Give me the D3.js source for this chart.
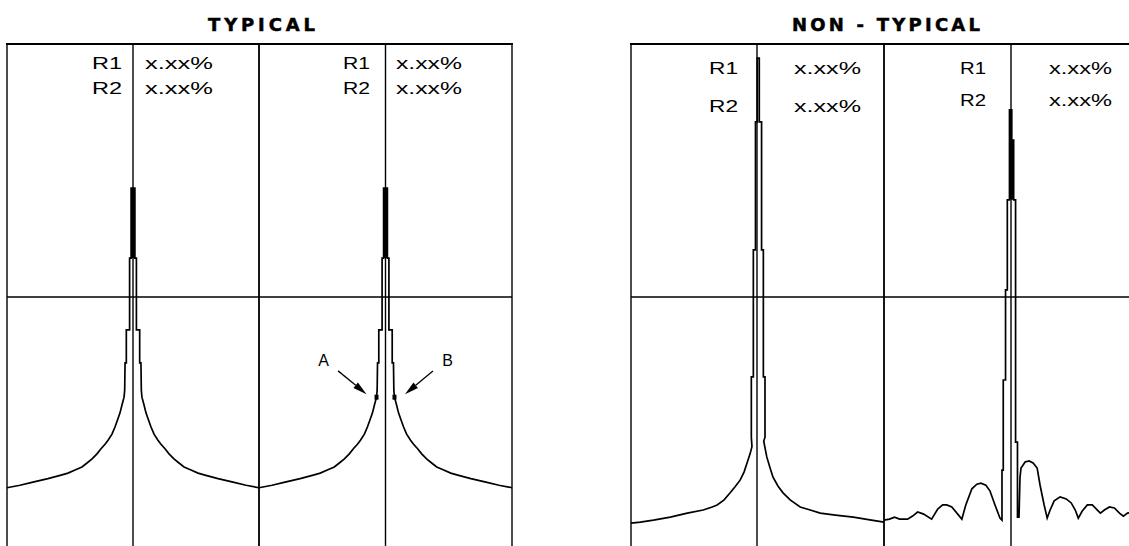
<!DOCTYPE html>
<html>
<head>
<meta charset="utf-8">
<script src="https://cdn.jsdelivr.net/npm/d3@7/dist/d3.min.js"></script>
<style>
  html, body { margin: 0; padding: 0; background: #fff; }
  svg { display: block; }
  text { font-family: "Liberation Sans", Arial, sans-serif; fill: #000; }
  text.title { font-family: "DejaVu Sans", sans-serif; font-weight: bold;
               stroke: #000; stroke-width: 0.5; }
</style>
</head>
<body>
<svg id="chart" width="1129" height="546"></svg>
<script>
// ---- data -------------------------------------------------------------
// Offsets are in % of the half-span of a chart (-100 .. 100, 0 = carrier),
// levels are in dB below the top of the screen (0 .. -100).

const panelTitles = ["TYPICAL", "NON - TYPICAL"];
const readoutLabels = ["R1", "R2"];
const readoutValues = ["x.xx%", "x.xx%"];

// Typical response: one side of the symmetric skirt, [offset, level],
// from the peak outward.
const typicalHalf = [
  [1.5, -28.5], [1.5, -42.3], [2.7, -42.3], [2.7, -56.5],
  [5.3, -56.5], [5.3, -63.0], [6.3, -63.0], [6.6, -68.4],
  [7.1, -69.8], [8.7, -71.3], [10.3, -72.9], [12.3, -74.3],
  [14.3, -75.7], [16.7, -77.1], [19.8, -78.3], [22.2, -79.1],
  [25.4, -80.0], [28.6, -81.0], [32.5, -82.0], [36.5, -82.8],
  [40.5, -83.6], [46.0, -84.2], [51.6, -84.8], [57.1, -85.2],
  [67.5, -85.9], [79.4, -86.6], [89.7, -87.2], [100, -87.7]
];

// Non-typical response 1: narrow peak with a wide skirt.
const nonTypicalOne = [
  [-100, -94.7], [-92.5, -94.5], [-82.2, -94.1], [-68.8, -93.5],
  [-55.3, -92.7], [-42.7, -92.1], [-35.6, -91.5], [-31.6, -91.1],
  [-26.1, -90.1], [-21.3, -88.7], [-17.4, -87.5], [-13.4, -86.2],
  [-10.3, -84.6], [-7.9, -82.8], [-5.5, -81.0], [-4.0, -79.6],
  [-4.5, -77.7], [-4.5, -65.8], [-2.9, -65.8], [-2.9, -40.7],
  [-1.2, -40.7], [-1.2, -15.4], [0.2, -15.4], [0.2, -2.8],
  [1.8, -2.8], [1.8, -15.4], [3.6, -15.4], [3.6, -40.7],
  [5.0, -40.7], [5.0, -65.8], [6.3, -65.8], [6.3, -77.7],
  [5.3, -78.5], [7.7, -81.6], [10.3, -83.8], [12.6, -85.6],
  [16.6, -87.4], [20.5, -88.7], [26.1, -90.1], [34.0, -91.5],
  [41.9, -92.1], [49.8, -92.7], [61.7, -93.1], [75.9, -93.5],
  [87.7, -94.0], [100, -94.5]
];

// Non-typical response 2: peak with side lobes.
const nonTypicalTwo = [
  [-100, -94.1], [-95.7, -93.9], [-91.7, -93.5], [-87.7, -93.9],
  [-81.4, -93.9], [-77.5, -93.3], [-73.5, -92.5], [-68.8, -92.9],
  [-62.5, -93.9], [-57.7, -91.9], [-53.8, -91.1], [-50.6, -91.1],
  [-46.6, -91.5], [-38.7, -93.9], [-35.6, -91.1], [-30.8, -87.9],
  [-26.9, -87.0], [-23.7, -86.8], [-19.8, -87.2], [-16.6, -88.3],
  [-12.6, -91.1], [-8.7, -93.7], [-7.1, -94.1], [-7.1, -84.2],
  [-6.1, -84.2], [-6.1, -66.4], [-4.3, -66.4], [-4.3, -48.6],
  [-2.9, -48.6], [-2.9, -30.8], [-1.2, -30.8], [-1.2, -13.0],
  [0.6, -13.0], [0.6, -19.0], [2.1, -19.0], [2.1, -30.8],
  [3.6, -30.8], [3.6, -78.7], [5.1, -78.7], [5.1, -93.5],
  [6.3, -93.5], [6.7, -89.5], [7.1, -85.6], [7.9, -83.8],
  [11.1, -82.6], [14.2, -82.4], [17.4, -82.8], [20.6, -83.8],
  [22.9, -87.2], [26.1, -91.1], [28.5, -93.7], [30.8, -92.1],
  [34.0, -90.3], [38.7, -89.5], [43.5, -89.9], [47.4, -90.7],
  [50.6, -92.1], [53.0, -93.7], [56.1, -92.3], [60.1, -91.1],
  [64.0, -91.1], [68.0, -92.1], [70.4, -92.7], [73.5, -92.1],
  [77.5, -91.5], [81.4, -91.7], [85.4, -92.7], [88.5, -93.3],
  [91.7, -92.7], [100, -92.5]
];

// Measurement points on the typical skirt.
const markerNames = ["A", "B"];
const markerOffsets = [-7.1, 7.1];
const markerLevel = -69.8;
// where each marker's caption sits and where its arrow starts
const captionOffsets = [-49, 49];
const captionLevel = -63.6;
const arrowTailOffsets = [-37.5, 37.5];
const arrowTailLevel = -64.6;
const arrowTipOffsets = [-15.0, 15.4];
const arrowTipLevel = -69.2;

const referenceLevel = -50;   // horizontal graticule line

// mirror the half skirt into a full symmetric trace
const typicalCurve = typicalHalf.slice().reverse().map(d => [-d[0], d[1]])
  .concat(typicalHalf);

// ---- layout -----------------------------------------------------------
const svg = d3.select("#chart");
const y = d3.scaleLinear().domain([0, -100]).range([44, 550]);

const panels = [
  { title: panelTitles[0], titleX: 261.5, titleW: 107, left: 7, right: 512 },
  { title: panelTitles[1], titleX: 886, titleW: 188, left: 631, right: 1140 }
];

// tipWidth: the part of the trace narrower than this (in offset units)
// merges into a solid peak
const charts = [
  { curve: typicalCurve, range: [7, 133, 259], markers: false, tipWidth: 2.5,
    labelRight: 122, labelW: 30, valueLeft: 145, valueW: 68, rows: [69, 94] },
  { curve: typicalCurve, range: [259, 385.5, 512], markers: true, tipWidth: 2.5,
    labelRight: 370, labelW: 27, valueLeft: 396, valueW: 66, rows: [69, 94] },
  { curve: nonTypicalOne, range: [631, 757, 884], markers: false, tipWidth: 0,
    labelRight: 738, labelW: 29, valueLeft: 794, valueW: 67, rows: [74, 112] },
  { curve: nonTypicalTwo, range: [884, 1011, 1138], markers: false, tipWidth: 2.5,
    labelRight: 986, labelW: 26, valueLeft: 1049, valueW: 63, rows: [74, 106] }
];

const ink = "#000";

// panel frames, titles and graticule
panels.forEach(p => {
  svg.append("text")
    .attr("class", "title")
    .attr("x", p.titleX - p.titleW / 2)
    .attr("y", 30.5)
    .attr("font-size", 18)
    .attr("textLength", p.titleW)
    .attr("lengthAdjust", "spacing")
    .text(p.title);

  svg.append("line")
    .attr("x1", p.left - 1).attr("x2", p.right + 1)
    .attr("y1", y(0)).attr("y2", y(0))
    .attr("stroke", ink).attr("stroke-width", 2);

  svg.append("line")
    .attr("x1", p.left).attr("x2", p.right)
    .attr("y1", y(referenceLevel)).attr("y2", y(referenceLevel))
    .attr("stroke", ink).attr("stroke-width", 1.4);
});

const line = d3.line();

charts.forEach(c => {
  const x = d3.scaleLinear().domain([-100, 0, 100]).range(c.range);
  const g = svg.append("g");

  // chart edges and carrier axis
  [-100, 0, 100].forEach(v => {
    g.append("line")
      .attr("x1", x(v)).attr("x2", x(v))
      .attr("y1", y(0)).attr("y2", y(-100))
      .attr("stroke", ink).attr("stroke-width", 1.4);
  });

  // readouts
  readoutLabels.forEach((lab, i) => {
    g.append("text")
      .attr("x", c.labelRight - c.labelW).attr("y", c.rows[i])
      .attr("font-size", 16)
      .attr("textLength", c.labelW).attr("lengthAdjust", "spacingAndGlyphs")
      .text(lab);
    g.append("text")
      .attr("x", c.valueLeft).attr("y", c.rows[i])
      .attr("font-size", 16)
      .attr("textLength", c.valueW).attr("lengthAdjust", "spacingAndGlyphs")
      .text(readoutValues[i]);
  });

  const pathFor = line.x(d => x(d[0])).y(d => y(d[1]));

  // solid peak where the two flanks run together
  if (c.tipWidth > 0) {
    const tip = c.curve.filter(d => Math.abs(d[0]) < c.tipWidth);
    g.append("path")
      .attr("d", pathFor(tip) + "Z")
      .attr("fill", ink);
  }

  // response trace
  g.append("path")
    .attr("d", pathFor(c.curve))
    .attr("fill", "none")
    .attr("stroke", ink)
    .attr("stroke-width", 1.7)
    .attr("stroke-linejoin", "miter");

  if (c.markers) {
    markerNames.forEach((name, i) => {
      const mx = x(markerOffsets[i]), my = y(markerLevel);
      g.append("rect")
        .attr("x", mx - 2).attr("y", my - 2.5)
        .attr("width", 4).attr("height", 5)
        .attr("fill", ink);

      g.append("text")
        .attr("x", x(captionOffsets[i])).attr("y", y(captionLevel))
        .attr("text-anchor", "middle")
        .attr("font-size", 16)
        .text(name);

      const x0 = x(arrowTailOffsets[i]), y0 = y(arrowTailLevel);
      const x1 = x(arrowTipOffsets[i]), y1 = y(arrowTipLevel);
      const ang = Math.atan2(y1 - y0, x1 - x0);
      const len = 14, hw = 3.5;
      const bx = x1 - len * Math.cos(ang), by = y1 - len * Math.sin(ang);
      g.append("line")
        .attr("x1", x0).attr("y1", y0).attr("x2", bx).attr("y2", by)
        .attr("stroke", ink).attr("stroke-width", 1.3);
      g.append("path")
        .attr("d", d3.line()([
          [x1, y1],
          [bx + hw * Math.sin(ang), by - hw * Math.cos(ang)],
          [bx - hw * Math.sin(ang), by + hw * Math.cos(ang)]
        ]) + "Z")
        .attr("fill", ink);
    });
  }
});
</script>
</body>
</html>
